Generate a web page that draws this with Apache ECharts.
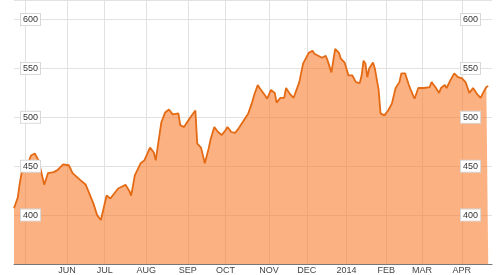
<!DOCTYPE html>
<html>
<head>
<meta charset="utf-8">
<script src="https://cdn.jsdelivr.net/npm/echarts@6/dist/echarts.min.js"></script>
<style>
html,body{margin:0;padding:0;background:#fff;}
#chart{width:500px;height:275px;}
</style>
</head>
<body>
<div id="chart"></div>
<script>
// trading-day index (0 = first day shown) and closing price
const dayIndex = [0,1,2,3,4,6,9,11,13,16,18,21,23,26,29,31,35,38,39,42,44,46,49,50,51,55,59,60,61,62,64,65,67,69,72,74,75,78,80,82,84,87,88,90,93,94,96,97,99,101,103,104,106,108,110,112,113,115,117,119,121,124,126,127,129,130,131,133,134,136,138,139,141,143,144,146,148,149,151,153,154,156,158,159,160,163,165,166,168,170,172,173,174,175,177,178,179,181,183,184,185,186,187,188,190,191,192,193,194,196,198,200,201,202,204,205,207,209,210,212,214,217,218,220,221,223,225,226,228,229,231,233,235,237,238,239,241,243,245,247,248,250,251];
const price = [407,406,418,432,443,446,461,463,456,431,443,444,446,452,451,443,436,431,431,412,400,395,420,422,417,427,431,433,425,420,441,443,453,456,469,464,456,495,505,508,503,504,492,490,499,497,507,473,469,453,468,477,490,485,482,487,490,485,484,489,495,504,515,522,533,530,531,522,519,528,525,515,520,520,530,524,520,522,536,555,556,566,568,565,566,561,563,558,546,570,566,560,561,556,543,541,543,536,535,543,558,555,541,550,556,550,551,528,504,502,507,514,515,530,536,545,545,533,528,519,530,530,531,531,536,531,525,530,533,530,538,545,541,540,541,536,525,530,524,520,524,531,532];
// month gridlines (trading-day index of first trading day of month)
const monthIdx = [6,28,48,70,92,112,135,155,176,197,216,237];
const monthLabels = ['','JUN','JUL','AUG','SEP','OCT','NOV','DEC','2014','FEB','MAR','APR'];
const yTicks = [400,450,500,550,600];
const totalDays = 254;

const categories = [];
for (let i = 0; i < totalDays; i++) categories.push(String(i));
const labelMap = {};
monthIdx.forEach((d, k) => { labelMap[d] = monthLabels[k]; });
const seriesData = dayIndex.map((d, k) => [d, price[k]]);

const chart = echarts.init(document.getElementById('chart'), null, {renderer: 'canvas'});
const yLabelStyle = {
  inside: true,
  color: '#333',
  fontSize: 9,
  fontFamily: 'Liberation Sans, Arial, sans-serif',
  backgroundColor: '#fff',
  borderColor: '#d8d8d8',
  borderWidth: 1,
  padding: [1, 2],
  showMinLabel: false,
  showMaxLabel: false,
  formatter: v => (yTicks.indexOf(v) >= 0 ? String(v) : '')
};
const yBase = {type: 'value', min: 350, max: 620, interval: 50,
  axisLine: {show: false}, axisTick: {show: false}};
chart.setOption({
  animation: false,
  backgroundColor: '#fff',
  grid: {left: 14, right: 8, top: 0, bottom: 11, containLabel: false},
  xAxis: {
    type: 'category',
    data: categories,
    boundaryGap: false,
    axisLine: {show: true, lineStyle: {color: '#777', width: 1}},
    axisTick: {show: false},
    axisLabel: {
      interval: (i) => labelMap[i] !== undefined && labelMap[i] !== '',
      formatter: (v, i) => labelMap[i] || '',
      color: '#444',
      fontSize: 9,
      fontFamily: 'Liberation Sans, Arial, sans-serif',
      margin: 2
    },
    splitLine: {
      show: true,
      interval: (i) => labelMap[i] !== undefined,
      lineStyle: {color: '#e2e2e2', width: 1}
    }
  },
  yAxis: [
    Object.assign({}, yBase, {
      position: 'left', z: 0,
      axisLabel: {show: false},
      splitLine: {show: true, lineStyle: {color: '#e2e2e2', width: 1}}
    }),
    Object.assign({}, yBase, {
      position: 'left', offset: 0, z: 10,
      axisLabel: Object.assign({}, yLabelStyle, {margin: 7}),
      splitLine: {show: false}
    }),
    Object.assign({}, yBase, {
      position: 'right', offset: 0, z: 10,
      axisLabel: Object.assign({}, yLabelStyle, {margin: 12}),
      splitLine: {show: false}
    })
  ],
  series: [{
    type: 'line',
    data: seriesData,
    yAxisIndex: 0,
    symbol: 'none',
    smooth: false,
    lineStyle: {color: '#e46a14', width: 1.8},
    areaStyle: {color: 'rgba(249,125,45,0.6)', opacity: 1, origin: 'start'},
    z: 2
  }]
});
</script>
</body>
</html>
